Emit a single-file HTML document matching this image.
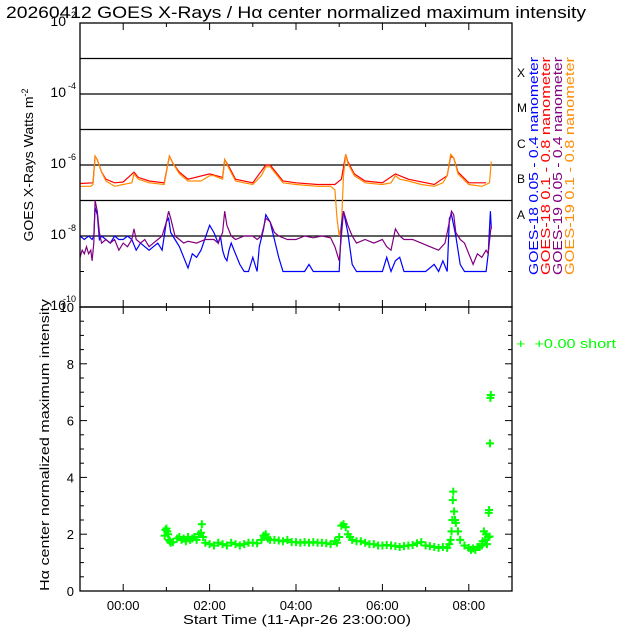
<!DOCTYPE html>
<html><head><meta charset="utf-8"><style>
body{margin:0;background:#fff;}
svg{display:block;font-family:"Liberation Sans",sans-serif;}
</style></head><body>
<svg id="c" width="640" height="640" viewBox="0 0 640 640">
<rect width="640" height="640" fill="#fff"/>
<text x="6" y="18" font-size="17" textLength="580" lengthAdjust="spacingAndGlyphs">20260412 GOES X-Rays / Hα center normalized maximum intensity</text>
<g id="topg"></g>
<g id="bot"></g>
<text transform="translate(33,165) rotate(-90)" font-size="13" text-anchor="middle"><tspan textLength="145" lengthAdjust="spacingAndGlyphs">GOES X-Rays Watts m</tspan><tspan font-size="9" dy="-5">-2</tspan></text>
<text transform="translate(49,445) rotate(-90)" font-size="13" text-anchor="middle" textLength="292" lengthAdjust="spacingAndGlyphs">Hα center normalized maximum intensity</text>
<text x="297" y="624" font-size="13" text-anchor="middle" textLength="228" lengthAdjust="spacingAndGlyphs">Start Time (11-Apr-26 23:00:00)</text>
<g font-size="12">
<text x="517" y="77">X</text><text x="517" y="112">M</text><text x="517" y="148">C</text><text x="517" y="183">B</text><text x="517" y="219">A</text>
</g>
<g font-size="13">
<text transform="translate(538,275) rotate(-90)" fill="#0000ff" textLength="218" lengthAdjust="spacingAndGlyphs">GOES-18 0.05 - 0.4 nanometer</text>
<text transform="translate(550,275) rotate(-90)" fill="#ff0000" textLength="218" lengthAdjust="spacingAndGlyphs">GOES-18 0.1 - 0.8 nanometer</text>
<text transform="translate(562,275) rotate(-90)" fill="#800080" textLength="218" lengthAdjust="spacingAndGlyphs">GOES-19 0.05 - 0.4 nanometer</text>
<text transform="translate(574,275) rotate(-90)" fill="#ff8c00" textLength="218" lengthAdjust="spacingAndGlyphs">GOES-19 0.1 - 0.8 nanometer</text>
</g>
<text x="516" y="348" font-size="13" fill="#00ff00" textLength="100" lengthAdjust="spacingAndGlyphs">+&#160;&#160;+0.00 short</text>
</svg>
<script>
const timeTicks=["00:00","02:00","04:00","06:00","08:00"];
const timeTickHours=[0,2,4,6,8];
const logTickLabels=["-2","-4","-6","-8","-10"];
const logTickValues=[-2,-4,-6,-8,-10];
const linTickValues=[0,2,4,6,8,10];
const g19LongH=[-1,-0.75,-0.7,-0.65,-0.6,-0.5,-0.4,-0.2,0,0.2,0.25,0.35,0.6,0.95,1.0,1.07,1.15,1.3,1.5,1.8,2.0,2.1,2.2,2.3,2.35,2.45,2.6,2.8,3.0,3.2,3.3,3.4,3.5,3.7,4.0,4.5,4.8,4.9,4.95,5.0,5.05,5.1,5.15,5.2,5.35,5.6,6.0,6.2,6.3,6.4,6.6,6.9,7.2,7.4,7.5,7.58,7.65,7.75,8.0,8.3,8.4,8.48,8.52];
const g19LongV=[-6.6,-6.6,-6.55,-5.75,-5.85,-6.2,-6.45,-6.6,-6.55,-6.5,-6.25,-6.4,-6.5,-6.55,-6.2,-5.75,-5.95,-6.25,-6.45,-6.45,-6.3,-6.3,-6.35,-6.4,-5.85,-6.1,-6.45,-6.5,-6.55,-6.3,-6.05,-6.05,-6.2,-6.5,-6.55,-6.6,-6.6,-6.7,-7.5,-8.0,-7.7,-6.3,-5.7,-5.95,-6.3,-6.5,-6.55,-6.5,-6.3,-6.4,-6.45,-6.55,-6.6,-6.5,-6.3,-5.7,-5.8,-6.25,-6.55,-6.6,-6.55,-6.5,-5.9];
const g18LongH=[-1,-0.7,-0.65,-0.6,-0.5,-0.4,-0.2,0,0.25,0.35,0.6,0.95,1.07,1.15,1.3,1.5,2.0,2.3,2.35,2.45,2.6,3.0,3.3,3.4,3.7,4.0,4.5,4.9,5.05,5.15,5.2,5.35,5.6,6.0,6.3,6.6,7.2,7.5,7.58,7.65,7.75,8.0,8.4];
const g18LongV=[-6.52,-6.5,-5.75,-5.85,-6.2,-6.4,-6.5,-6.48,-6.2,-6.35,-6.45,-6.5,-5.75,-5.95,-6.2,-6.4,-6.25,-6.35,-5.85,-6.05,-6.4,-6.5,-6.0,-6.0,-6.45,-6.5,-6.55,-6.55,-6.4,-5.7,-5.9,-6.25,-6.45,-6.5,-6.25,-6.4,-6.55,-6.3,-5.75,-5.8,-6.2,-6.5,-6.5];
const g19ShortH=[-1,-0.95,-0.9,-0.85,-0.8,-0.75,-0.72,-0.68,-0.65,-0.6,-0.55,-0.5,-0.4,-0.3,-0.2,-0.1,0,0.1,0.2,0.25,0.3,0.4,0.5,0.6,0.7,0.8,0.9,1.0,1.05,1.1,1.2,1.3,1.4,1.5,1.7,1.9,2.1,2.2,2.3,2.35,2.4,2.5,2.6,2.8,3.0,3.1,3.2,3.3,3.4,3.5,3.6,3.8,4.0,4.2,4.4,4.6,4.8,4.9,5.0,5.05,5.1,5.15,5.2,5.3,5.4,5.6,5.8,6.0,6.1,6.2,6.3,6.4,6.5,6.7,6.9,7.1,7.3,7.45,7.55,7.6,7.65,7.7,7.8,7.9,8.0,8.1,8.2,8.3,8.4,8.45,8.5,8.52];
const g19ShortV=[-8.6,-8.4,-8.5,-8.3,-8.5,-8.4,-8.7,-8.2,-7.0,-7.3,-7.9,-8.2,-8.1,-8.2,-8.1,-8.4,-8.2,-8.3,-8.1,-7.8,-8.1,-8.2,-8.1,-8.3,-8.2,-8.1,-8.0,-7.6,-7.3,-7.5,-8.0,-8.1,-8.2,-8.15,-8.2,-8.1,-8.1,-8.2,-7.9,-7.3,-7.7,-8.0,-8.1,-8.0,-8.0,-8.1,-8.0,-7.5,-7.6,-7.9,-8.0,-8.1,-8.1,-8.0,-8.05,-8.0,-8.05,-8.3,-8.7,-8.0,-7.3,-7.5,-7.7,-8.0,-8.2,-8.1,-8.2,-8.1,-8.3,-8.4,-7.8,-8.0,-8.1,-8.1,-8.2,-8.3,-8.4,-8.2,-7.6,-7.3,-7.4,-7.9,-8.1,-8.2,-8.5,-8.8,-8.5,-8.6,-8.4,-8.5,-7.9,-7.7];
const g18ShortH=[-1,-0.9,-0.8,-0.72,-0.68,-0.65,-0.6,-0.55,-0.5,-0.4,-0.3,-0.2,-0.1,0,0.1,0.2,0.3,0.4,0.5,0.6,0.7,0.8,0.9,1.0,1.05,1.1,1.2,1.3,1.4,1.5,1.6,1.7,1.8,2.0,2.1,2.2,2.25,2.3,2.35,2.4,2.45,2.5,2.6,2.7,2.8,2.9,3.0,3.1,3.15,3.25,3.3,3.4,3.5,3.6,3.7,4.0,4.2,4.3,4.4,4.6,4.9,5.0,5.05,5.1,5.2,5.3,5.4,5.6,6.0,6.1,6.2,6.3,6.4,6.5,6.6,7.0,7.2,7.3,7.4,7.5,7.55,7.6,7.7,7.8,7.9,8.4,8.45,8.5,8.52];
const g18ShortV=[-8.0,-8.1,-8.0,-8.1,-8.0,-7.2,-7.4,-8.1,-8.0,-8.1,-8.2,-8.0,-8.1,-8.1,-8.0,-8.1,-8.4,-8.2,-8.3,-8.4,-8.3,-8.2,-8.4,-7.6,-7.5,-7.9,-8.1,-8.3,-8.6,-8.9,-8.5,-8.6,-8.4,-7.7,-7.9,-8.2,-8.0,-8.4,-8.6,-8.7,-8.4,-8.2,-8.5,-8.8,-9.0,-9.0,-8.6,-9.0,-8.3,-7.8,-7.4,-7.6,-8.1,-8.6,-9.0,-9.0,-9.0,-8.8,-9.0,-9.0,-9.0,-9.0,-7.7,-7.3,-7.9,-8.8,-9.0,-9.0,-9.0,-8.6,-9.0,-8.7,-8.6,-9.0,-9.0,-9.0,-8.8,-9.0,-8.7,-9.0,-7.5,-7.4,-8.0,-8.8,-9.0,-9.0,-8.5,-7.3,-7.8];
const haH=[0.96,0.98,1.0,1.02,1.04,1.06,1.08,1.1,1.15,1.25,1.3,1.35,1.4,1.45,1.5,1.55,1.6,1.65,1.7,1.75,1.8,1.82,1.85,1.9,2.0,2.1,2.2,2.3,2.4,2.5,2.6,2.7,2.8,2.9,3.0,3.1,3.2,3.25,3.3,3.35,3.4,3.5,3.6,3.7,3.8,3.9,4.0,4.1,4.2,4.3,4.4,4.5,4.6,4.7,4.8,4.9,4.95,5.0,5.05,5.1,5.15,5.2,5.25,5.3,5.4,5.5,5.6,5.7,5.8,5.9,6.0,6.1,6.2,6.3,6.4,6.5,6.6,6.7,6.8,6.9,7.0,7.1,7.2,7.3,7.4,7.5,7.55,7.58,7.6,7.62,7.63,7.64,7.66,7.68,7.7,7.75,7.8,7.9,8.0,8.05,8.1,8.15,8.2,8.25,8.3,8.32,8.35,8.38,8.4,8.42,8.45,8.46,8.47,8.48,8.49,8.5,8.51];
const haV=[1.95,2.15,2.2,2.1,2.0,1.8,1.75,1.7,1.72,1.85,1.9,1.8,1.85,1.75,1.9,1.8,1.85,1.9,1.8,2.0,2.05,2.35,1.9,1.7,1.65,1.6,1.7,1.65,1.6,1.7,1.65,1.6,1.65,1.7,1.7,1.68,1.8,1.95,2.0,1.85,1.8,1.8,1.78,1.75,1.8,1.72,1.72,1.7,1.72,1.7,1.72,1.7,1.7,1.68,1.65,1.75,1.7,1.9,2.3,2.35,2.25,2.0,1.9,1.8,1.75,1.75,1.7,1.65,1.65,1.6,1.6,1.62,1.6,1.58,1.55,1.58,1.6,1.62,1.68,1.72,1.6,1.58,1.55,1.52,1.55,1.52,1.65,1.8,2.1,2.5,3.2,3.5,2.8,2.5,2.4,2.1,1.8,1.6,1.52,1.45,1.5,1.45,1.55,1.55,1.6,1.75,2.1,1.8,2.0,1.65,1.9,2.75,2.85,1.92,5.2,6.8,6.9];

const NS='http://www.w3.org/2000/svg';
const L=80,R=512,T1=23,B1=307,T2=307,B2=591,H0=-1,H1=9;
const xs=h=>L+(h-H0)/(H1-H0)*(R-L);
const yLog=v=>T1+(-2-v)/8*(B1-T1);
const yLin=v=>B2-v/10*(B2-T2);
function mk(tag,attrs,parent){const e=document.createElementNS(NS,tag);for(const k in attrs)e.setAttribute(k,attrs[k]);parent.appendChild(e);return e;}
const topG=document.getElementById('topg'),bot=document.getElementById('bot');
for(let d=-3;d>=-8;d--){const ln=mk('line',{x1:L,x2:R,y1:yLog(d),y2:yLog(d),stroke:'#000','stroke-width':1.3},topG);

}
for(let d=-2;d>=-10;d--){const len=(d%2===0)?7:4;
mk('line',{x1:L,x2:L+len,y1:yLog(d),y2:yLog(d),stroke:'#000'},topG);
mk('line',{x1:R-len,x2:R,y1:yLog(d),y2:yLog(d),stroke:'#000'},topG);}
logTickValues.forEach((v,i)=>{const t=mk('text',{x:L-14,y:yLog(v)+3,'font-size':14,'text-anchor':'end'},topG);


t.textContent='10';
const s=mk('text',{x:L-4,y:yLog(v)-5,'font-size':9,'text-anchor':'end'},topG);


s.textContent=logTickLabels[i];});
[[T1,B1],[T2,B2]].forEach(([a,b])=>{for(let h=0;h<=8;h++){const len=(h%2===0)?7:4;const x=xs(h);
mk('line',{x1:x,x2:x,y1:a,y2:a+len,stroke:'#000'},topG);mk('line',{x1:x,x2:x,y1:b-len,y2:b,stroke:'#000'},topG);}});
function series(H,V,col,name){const p=H.map((h,i)=>xs(h).toFixed(1)+','+yLog(Math.max(V[i],-9)).toFixed(1)).join(' ');
const pl=mk('polyline',{points:p,fill:'none',stroke:col,'stroke-width':1.2},topG);

}
series(g18LongH,g18LongV,'#ff0000','goes18-long-line');
series(g19LongH,g19LongV,'#ff8c00','goes19-long-line');
series(g18ShortH,g18ShortV,'#0000ff','goes18-short-line');
series(g19ShortH,g19ShortV,'#800080','goes19-short-line');
mk('rect',{x:L,y:T1,width:R-L,height:B1-T1,fill:'none',stroke:'#000','stroke-width':1.3},topG);
for(let v=0;v<=10;v+=0.5){const len=(v%2===0)?7:4;
mk('line',{x1:L,x2:L+len,y1:yLin(v),y2:yLin(v),stroke:'#000'},bot);mk('line',{x1:R-len,x2:R,y1:yLin(v),y2:yLin(v),stroke:'#000'},bot);}
linTickValues.forEach(v=>{const t=mk('text',{x:L-6,y:yLin(v)+5,'font-size':13,'text-anchor':'end'},bot);


t.textContent=String(v);});
timeTickHours.forEach((h,i)=>{const t=mk('text',{x:xs(h),y:610,'font-size':13,'text-anchor':'middle'},bot);


t.textContent=timeTicks[i];});
haH.forEach((h,i)=>{const x=xs(h),y=yLin(haV[i]);
const c=mk('path',{d:`M${x-4},${y}H${x+4}M${x},${y-4}V${y+4}`,stroke:'#00ff00','stroke-width':2,fill:'none'},bot);

});
mk('rect',{x:L,y:T2,width:R-L,height:B2-T2,fill:'none',stroke:'#000','stroke-width':1.3},bot);
</script>
</body></html>
